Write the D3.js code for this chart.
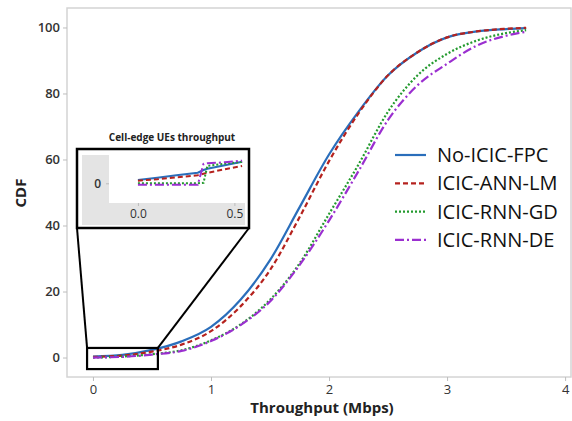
<!DOCTYPE html>
<html>
<head>
<meta charset="utf-8">
<script src="https://d3js.org/d3.v7.min.js"></script>
<style>
  body { margin: 0; background: #fff; }
  svg { display: block; }
  .tick text { fill: #333; font-family: "Open Sans", sans-serif; font-weight: 600; }
  .tick line { stroke: #bdbdbd; }
  .domain { display: none; }
</style>
</head>
<body>
<svg width="572" height="421"></svg>
<script>
// data
var throughput = [0, 0.25, 0.5, 0.75, 1.0, 1.25, 1.5, 1.75, 2.0, 2.25, 2.5, 2.75, 3.0, 3.25, 3.5, 3.67];
var noIcicFpc  = [0.3, 0.8, 2.3, 4.9, 9.3, 17.5, 29.5, 45.5, 61.5, 74.5, 85.5, 92.5, 97.0, 98.8, 99.5, 99.8];
var icicAnnLm  = [0.2, 0.6, 1.8, 3.9, 8.0, 15.5, 26.5, 42.5, 59.5, 74.0, 85.5, 92.5, 97.0, 98.8, 99.6, 99.9];
var icicRnnGd  = [0.0, 0.3, 1.0, 2.2, 5.2, 10.0, 17.5, 28.5, 43.5, 58.5, 74.5, 85.5, 92.0, 96.0, 98.3, 99.2];
var icicRnnDe  = [0.0, 0.2, 0.9, 2.0, 5.0, 9.8, 17.0, 28.0, 41.5, 56.5, 72.0, 82.5, 89.0, 94.5, 97.5, 98.7];

// inset (cell-edge UEs) values
var insetX   = [0, 0.1, 0.2, 0.31, 0.34, 0.36, 0.45, 0.54];
var insetFpc = [0.33, 0.55, 0.8, 1.06, 1.33, 1.45, 1.8, 2.16];
var insetAnn = [0.26, 0.4, 0.6, 0.8, 0.95, 1.05, 1.4, 1.73];
var insetGd  = [0.0, 0.0, 0.0, 0.0, 0.05, 1.75, 1.95, 2.16];
var insetDe  = [-0.15, -0.15, -0.15, -0.15, 1.95, 2.0, 2.1, 2.26];

var names  = ["No-ICIC-FPC", "ICIC-ANN-LM", "ICIC-RNN-GD", "ICIC-RNN-DE"];
var colors = ["#2a6ebb", "#b5221e", "#239a2e", "#9b2fd0"];
var dashes = [null, "5,3", "2,2", "9,3,2,3"];
var xTicks = [0, 1, 2, 3, 4];
var yTicks = [0, 20, 40, 60, 80, 100];

var mainSeries  = [noIcicFpc, icicAnnLm, icicRnnGd, icicRnnDe];
var insetSeries = [insetFpc, insetAnn, insetGd, insetDe];

var svg = d3.select("svg");

var x = d3.scaleLinear().domain([-0.22, 4.05]).range([67, 571]);
var y = d3.scaleLinear().domain([-5.9, 105.9]).range([377, 8]);

// frame
svg.append("rect")
    .attr("x", 67).attr("y", 8)
    .attr("width", 504).attr("height", 369)
    .attr("fill", "none").attr("stroke", "#d4d4d4").attr("stroke-width", 1.5);

svg.append("g")
    .attr("transform", "translate(0,377)")
    .call(d3.axisBottom(x).tickValues(xTicks).tickSize(4).tickPadding(4).tickFormat(d3.format("d")))
    .selectAll("text").style("font-size", "13px").style("font-weight", "400");

svg.append("g")
    .attr("transform", "translate(67,0)")
    .call(d3.axisLeft(y).tickValues(yTicks).tickSize(4).tickPadding(3).tickFormat(d3.format("d")))
    .selectAll("text").style("font-size", "13px");

svg.append("text")
    .attr("x", 322).attr("y", 413)
    .attr("text-anchor", "middle")
    .style("font", "bold 15px 'Open Sans', sans-serif").attr("fill", "#222")
    .text("Throughput (Mbps)");

svg.append("text")
    .attr("transform", "translate(26,193) rotate(-90)")
    .attr("text-anchor", "middle")
    .style("font", "bold 15px 'Open Sans', sans-serif").attr("fill", "#222")
    .text("CDF");

// curves
var line = d3.line()
    .curve(d3.curveMonotoneX)
    .x(function(d, i) { return x(throughput[i]); })
    .y(function(d) { return y(d); });

mainSeries.forEach(function(s, k) {
  svg.append("path")
      .attr("d", line(s))
      .attr("fill", "none")
      .attr("stroke", colors[k])
      .attr("stroke-width", 2.2)
      .attr("stroke-dasharray", dashes[k]);
});

// zoom box on main plot
var zoomX = [-0.05, 0.55], zoomY = [-3.5, 2.9];
var zx0 = x(zoomX[0]), zx1 = x(zoomX[1]), zy0 = y(zoomY[1]), zy1 = y(zoomY[0]);

// inset box layout
var box = {left: 77, top: 149, right: 249, bottom: 228};

svg.append("rect")
    .attr("x", zx0).attr("y", zy0)
    .attr("width", zx1 - zx0).attr("height", zy1 - zy0)
    .attr("fill", "none").attr("stroke", "#000").attr("stroke-width", 2.2);

svg.append("line")
    .attr("x1", box.left).attr("y1", box.bottom).attr("x2", zx0).attr("y2", zy0)
    .attr("stroke", "#000").attr("stroke-width", 2);
svg.append("line")
    .attr("x1", box.right).attr("y1", box.bottom).attr("x2", zx1).attr("y2", zy0)
    .attr("stroke", "#000").attr("stroke-width", 2);

// inset
svg.append("rect")
    .attr("x", box.left).attr("y", box.top)
    .attr("width", box.right - box.left).attr("height", box.bottom - box.top)
    .attr("fill", "#fff");
svg.append("rect")
    .attr("x", 82).attr("y", 155)
    .attr("width", 163).attr("height", 70)
    .attr("fill", "#e4e4e4");
svg.append("rect")
    .attr("x", 109).attr("y", 155)
    .attr("width", 136).attr("height", 48)
    .attr("fill", "#fff");

var ix = d3.scaleLinear().domain([-0.15, 0.555]).range([109, 245]);
var iy = d3.scaleLinear().domain([-1.97, 2.83]).range([203, 155]);

svg.append("g")
    .attr("transform", "translate(0,203)")
    .call(d3.axisBottom(ix).tickValues([0, 0.5]).tickSize(3).tickPadding(3).tickFormat(d3.format(".1f")))
    .selectAll("text").style("font-size", "12px").style("font-weight", "400");
svg.append("g")
    .attr("transform", "translate(109,0)")
    .call(d3.axisLeft(iy).tickValues([0]).tickSize(3).tickPadding(5).tickFormat(d3.format("d")))
    .selectAll("text").style("font-size", "12px");

var iline = d3.line()
    .x(function(d, i) { return ix(insetX[i]); })
    .y(function(d) { return iy(d); });

insetSeries.forEach(function(s, k) {
  svg.append("path")
      .attr("d", iline(s))
      .attr("fill", "none")
      .attr("stroke", colors[k])
      .attr("stroke-width", 2)
      .attr("stroke-dasharray", dashes[k]);
});

svg.append("rect")
    .attr("x", box.left).attr("y", box.top)
    .attr("width", box.right - box.left).attr("height", box.bottom - box.top)
    .attr("fill", "none").attr("stroke", "#000").attr("stroke-width", 2.5);

svg.append("text")
    .attr("x", 172).attr("y", 141)
    .attr("text-anchor", "middle")
    .style("font", "bold 10px 'Open Sans', sans-serif").attr("fill", "#222")
    .text("Cell-edge UEs throughput");

// legend
var legend = svg.selectAll(".legend")
    .data(names)
    .enter().append("g")
      .attr("class", "legend")
      .attr("transform", function(d, i) { return "translate(395," + (155 + i * 28.3) + ")"; });

legend.append("line")
    .attr("x1", 0).attr("x2", 31)
    .attr("stroke", function(d, i) { return colors[i]; })
    .attr("stroke-width", 2.2)
    .attr("stroke-dasharray", function(d, i) { return dashes[i]; });

legend.append("text")
    .attr("x", 42).attr("dy", "0.35em")
    .style("font", "20px 'Open Sans', sans-serif").attr("fill", "#111")
    .text(function(d) { return d; });
</script>
</body>
</html>
